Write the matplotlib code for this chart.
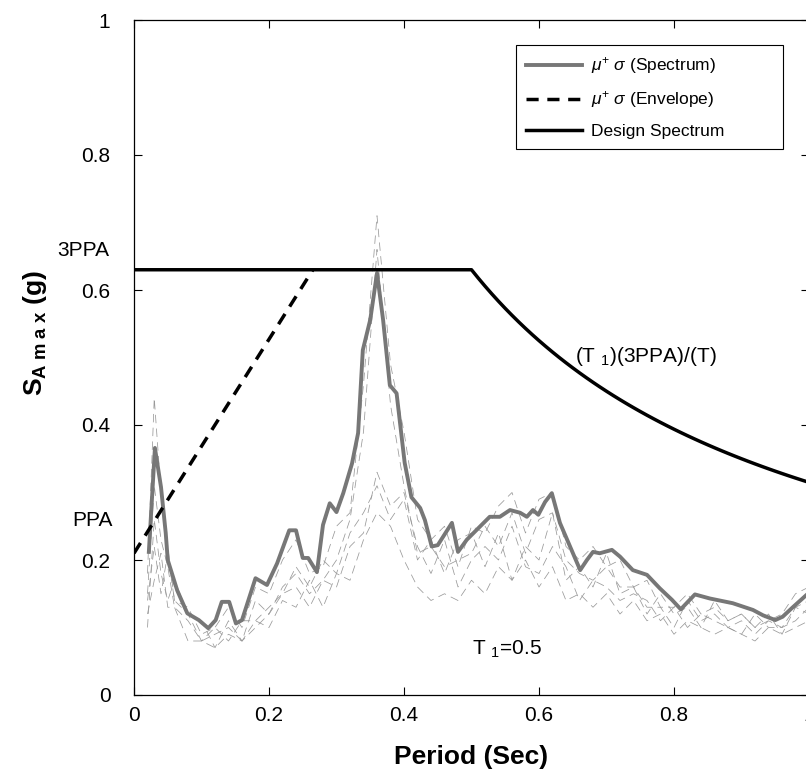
import matplotlib
matplotlib.use("Agg")
import matplotlib.pyplot as plt

plt.rcParams["font.family"] = ["Liberation Sans", "DejaVu Sans"]
plt.rcParams["mathtext.fontset"] = "custom"
plt.rcParams["mathtext.rm"] = "Liberation Sans"
plt.rcParams["mathtext.it"] = "Liberation Sans:italic"
plt.rcParams["mathtext.bf"] = "Liberation Sans:bold"

# design spectrum parameters
PPA = 0.21
T1 = 0.5
T_env_end = 0.265

# mu + sigma spectrum (thick grey line)
mean_T = [0.022, 0.031, 0.040, 0.047, 0.050, 0.064, 0.079, 0.096, 0.110, 0.121,
          0.130, 0.141, 0.151, 0.160, 0.180, 0.197, 0.212, 0.230, 0.240, 0.250,
          0.258, 0.271, 0.280, 0.290, 0.300, 0.310, 0.323, 0.332, 0.339, 0.350,
          0.360, 0.369, 0.379, 0.389, 0.401, 0.411, 0.424, 0.431, 0.441, 0.450,
          0.471, 0.480, 0.493, 0.510, 0.527, 0.542, 0.557, 0.572, 0.582, 0.591,
          0.599, 0.609, 0.619, 0.631, 0.646, 0.661, 0.671, 0.680, 0.690, 0.708,
          0.720, 0.739, 0.760, 0.779, 0.797, 0.810, 0.831, 0.853, 0.887, 0.917,
          0.932, 0.950, 0.961, 0.976, 0.996, 1.010]
mean_SA = [0.212, 0.366, 0.308, 0.240, 0.200, 0.155, 0.121, 0.111, 0.099, 0.111,
           0.138, 0.138, 0.106, 0.111, 0.173, 0.163, 0.195, 0.244, 0.244, 0.203,
           0.203, 0.182, 0.252, 0.284, 0.271, 0.299, 0.343, 0.388, 0.511, 0.556,
           0.625, 0.556, 0.459, 0.447, 0.344, 0.293, 0.277, 0.259, 0.220, 0.222,
           0.255, 0.212, 0.230, 0.247, 0.264, 0.264, 0.274, 0.270, 0.264, 0.274,
           0.267, 0.286, 0.299, 0.255, 0.220, 0.185, 0.200, 0.212, 0.210, 0.215,
           0.205, 0.185, 0.178, 0.158, 0.141, 0.127, 0.149, 0.143, 0.136, 0.126,
           0.118, 0.111, 0.116, 0.130, 0.148, 0.160]

# individual records (thin dashed grey lines)
rec_T = [0.02, 0.03, 0.04, 0.05, 0.06, 0.08, 0.10, 0.12, 0.14, 0.16,
         0.18, 0.20, 0.22, 0.24, 0.26, 0.28, 0.30, 0.32, 0.34, 0.36,
         0.38, 0.40, 0.42, 0.44, 0.46, 0.48, 0.50, 0.52, 0.54, 0.56,
         0.58, 0.60, 0.62, 0.64, 0.66, 0.68, 0.70, 0.72, 0.74, 0.76,
         0.78, 0.80, 0.82, 0.84, 0.86, 0.88, 0.90, 0.92, 0.94, 0.96,
         0.98, 1.00]
rec1 = [0.18, 0.44, 0.30, 0.22, 0.14, 0.13, 0.09, 0.10, 0.13, 0.10,
        0.16, 0.15, 0.20, 0.23, 0.18, 0.19, 0.25, 0.27, 0.46, 0.71,
        0.49, 0.39, 0.26, 0.23, 0.25, 0.19, 0.25, 0.24, 0.28, 0.30,
        0.24, 0.29, 0.30, 0.22, 0.20, 0.22, 0.19, 0.20, 0.16, 0.17,
        0.13, 0.13, 0.15, 0.12, 0.13, 0.11, 0.12, 0.10, 0.11, 0.12,
        0.15, 0.16]
rec2 = [0.15, 0.31, 0.23, 0.19, 0.13, 0.11, 0.08, 0.09, 0.10, 0.08,
        0.14, 0.12, 0.16, 0.18, 0.15, 0.17, 0.20, 0.26, 0.39, 0.66,
        0.43, 0.31, 0.21, 0.22, 0.19, 0.20, 0.21, 0.25, 0.22, 0.27,
        0.21, 0.26, 0.27, 0.20, 0.18, 0.17, 0.19, 0.16, 0.16, 0.13,
        0.13, 0.10, 0.14, 0.11, 0.12, 0.10, 0.11, 0.09, 0.11, 0.10,
        0.13, 0.14]
rec3 = [0.12, 0.17, 0.21, 0.13, 0.13, 0.08, 0.08, 0.07, 0.09, 0.08,
        0.11, 0.10, 0.14, 0.13, 0.17, 0.13, 0.18, 0.17, 0.23, 0.27,
        0.25, 0.20, 0.16, 0.14, 0.15, 0.14, 0.17, 0.15, 0.19, 0.17,
        0.20, 0.16, 0.19, 0.14, 0.15, 0.13, 0.15, 0.12, 0.14, 0.11,
        0.12, 0.09, 0.11, 0.10, 0.09, 0.10, 0.09, 0.08, 0.10, 0.09,
        0.10, 0.11]
rec4 = [0.14, 0.22, 0.15, 0.21, 0.14, 0.12, 0.08, 0.10, 0.08, 0.11,
        0.11, 0.13, 0.15, 0.19, 0.16, 0.20, 0.18, 0.24, 0.27, 0.31,
        0.26, 0.29, 0.20, 0.23, 0.18, 0.23, 0.24, 0.19, 0.24, 0.17,
        0.22, 0.20, 0.27, 0.17, 0.19, 0.16, 0.21, 0.15, 0.16, 0.12,
        0.15, 0.12, 0.13, 0.10, 0.14, 0.11, 0.12, 0.10, 0.12, 0.09,
        0.13, 0.12]
rec5 = [0.10, 0.26, 0.18, 0.14, 0.17, 0.12, 0.11, 0.07, 0.11, 0.08,
        0.10, 0.12, 0.15, 0.16, 0.13, 0.17, 0.16, 0.22, 0.24, 0.33,
        0.28, 0.30, 0.22, 0.18, 0.23, 0.16, 0.20, 0.22, 0.20, 0.25,
        0.19, 0.18, 0.22, 0.19, 0.14, 0.17, 0.16, 0.14, 0.15, 0.14,
        0.11, 0.13, 0.10, 0.12, 0.11, 0.10, 0.09, 0.12, 0.10, 0.10,
        0.11, 0.13]
records = [rec1, rec2, rec3, rec4, rec5]

ticks = [0, 0.2, 0.4, 0.6, 0.8, 1]
tick_labels = ["0", "0.2", "0.4", "0.6", "0.8", "1"]

# design spectrum: plateau then T1*3PPA/T
design_T = [0.0, T1] + [T1 + 0.01 * i for i in range(1, 52)]
design_SA = [3 * PPA if t <= T1 else T1 * 3 * PPA / t for t in design_T]

fig = plt.figure(figsize=(8.06, 7.84), dpi=100)
ax = fig.add_axes([134 / 806, 89 / 784, 675 / 806, 675 / 784])

for r in records:
    ax.plot(rec_T, r, color="#999999", lw=0.55, linestyle=(0, (11, 7)))
ax.plot(mean_T, mean_SA, color="#777777", lw=2.8, label=r"$\mu^{+}\ \sigma$ (Spectrum)")
ax.plot([0, T_env_end], [PPA, 3 * PPA], color="black", lw=2.5,
        linestyle=(0, (3.5, 2.5)), label=r"$\mu^{+}\ \sigma$ (Envelope)")
ax.plot(design_T, design_SA, color="black", lw=2.5, label="Design Spectrum")

ax.set_xlim(0, 1)
ax.set_ylim(0, 1)
ax.set_xticks(ticks)
ax.set_xticklabels(tick_labels)
ax.set_yticks(ticks)
ax.set_yticklabels(tick_labels)
ax.tick_params(direction="in", length=6, width=0.8, labelsize=15,
               top=True, right=True)
ax.tick_params(axis="y", pad=17)
ax.tick_params(axis="x", pad=8)
for s in ax.spines.values():
    s.set_linewidth(0.9)

ax.set_xlabel("Period (Sec)", fontsize=19, fontweight="bold", labelpad=14)
fig.text(35 / 806, 1 - 333 / 784, r"$\mathbf{S}_{\mathbf{A\ m\ a\ x}}$ (g)",
         rotation=90, ha="center", va="center", fontsize=19, fontweight="bold")

# annotations
ax.text(-0.036, 3 * PPA + 0.028, "3PPA", ha="right", va="center", fontsize=15)
ax.text(-0.031, PPA + 0.049, "PPA", ha="right", va="center", fontsize=15)
ax.text(0.653, 0.493, r"(T $_{1}$)(3PPA)/(T)", ha="left", va="baseline", fontsize=15)
ax.text(0.5, 0.059, r"T $_{1}$=0.5", ha="left", va="baseline", fontsize=15)

leg = ax.legend(loc="upper left", mode="expand",
                bbox_to_anchor=(516 / 806, 1 - 150 / 784, 267 / 806, 105 / 784),
                bbox_transform=fig.transFigure, fontsize=12.5, handlelength=3.2,
                handletextpad=0.5, fancybox=False, framealpha=1,
                borderaxespad=0, borderpad=0.6, labelspacing=0.75)
leg.get_frame().set_edgecolor("black")
leg.get_frame().set_linewidth(0.8)

plt.savefig("out.png", dpi=100)
